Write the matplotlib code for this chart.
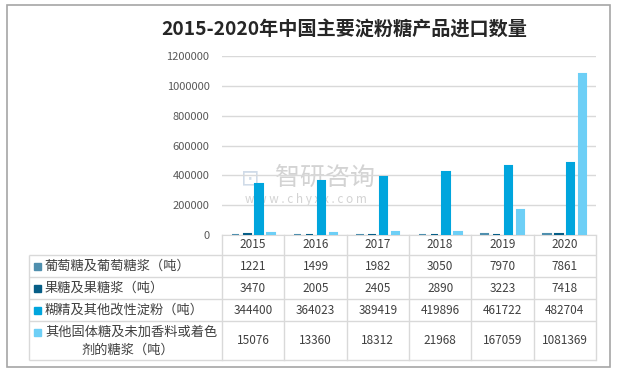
import numpy as np
import matplotlib
matplotlib.use('Agg')
import matplotlib.pyplot as plt
from matplotlib.transforms import blended_transform_factory
from matplotlib.patches import Rectangle

plt.rcParams['font.family'] = ['Noto Sans CJK SC', 'DejaVu Sans']

years = ['2015', '2016', '2017', '2018', '2019', '2020']
series_names = ['葡萄糖及葡萄糖浆（吨）', '果糖及果糖浆（吨）', '糊精及其他改性淀粉（吨）',
                '其他固体糖及未加香料或着色\n剂的糖浆（吨）']
glucose = [1221, 1499, 1982, 3050, 7970, 7861]
fructose = [3470, 2005, 2405, 2890, 3223, 7418]
dextrin = [344400, 364023, 389419, 419896, 461722, 482704]
other_syrup = [15076, 13360, 18312, 21968, 167059, 1081369]
yticks = [0, 200000, 400000, 600000, 800000, 1000000, 1200000]

series = [glucose, fructose, dextrin, other_syrup]
colors = ['#4f8fae', '#065e87', '#00a5dd', '#6dcff6']

W, H = 617, 371
fig = plt.figure(figsize=(W/100, H/100), dpi=100)

# page-level axes in pixel coords (table, border, watermark)
bg = fig.add_axes([0, 0, 1, 1])
bg.set_xlim(0, W)
bg.set_ylim(H, 0)
bg.axis('off')

ax = fig.add_axes([222/W, (H-235)/H, (596-222)/W, (235-56)/H])
ax.set_facecolor('none')
x = np.arange(len(years))
for i, (vals, c) in enumerate(zip(series, colors)):
    ax.bar(x + (i - 1.5)*0.19, vals, width=0.12, color=c, edgecolor=c,
           linewidth=1.5, zorder=3)
ax.set_xlim(-0.5, len(years) - 0.5)
ax.set_ylim(0, 1200000)
ax.set_yticks(yticks)
ax.set_yticklabels([str(v) for v in yticks], fontsize=8, color='#595959')
ax.set_xticks([])
ax.tick_params(axis='y', length=0, pad=9)
ax.grid(axis='y', color='#d9d9d9', linewidth=1, zorder=0)
for s in ['left', 'right', 'top']:
    ax.spines[s].set_visible(False)
ax.spines['bottom'].set_color('#d9d9d9')
ax.spines['bottom'].set_zorder(1)

# outer border
bg.add_patch(Rectangle((7, 5), 603, 362, fill=False, edgecolor='#a6a6a6', linewidth=1.2))

bg.text(344, 30, '2015-2020年中国主要淀粉糖产品进口数量', fontsize=13.8, fontweight='bold',
        color='#262626', ha='center', va='center')

# watermark
bg.text(250, 178, '⊡', fontsize=16, color='#c5d3e3', ha='center', va='center', alpha=0.8)
bg.text(325, 178, '智研咨询', fontsize=18, color='#c8c8c8', ha='center', va='center', alpha=0.8)
bg.text(306, 199, 'w w w . c h y x x . c o m', fontsize=8.5, color='#c8c8c8',
        ha='center', va='center', alpha=0.8)

# data table
tr = blended_transform_factory(ax.transData, bg.transData)
lc = '#d9d9d9'
tc = '#404040'
row_lines = [255, 277, 299, 321, 360]
bg.hlines(row_lines, 29, 596, color=lc, linewidth=1)
bg.vlines([29], 255, 360, color=lc, linewidth=1)
for b in np.arange(len(years) + 1) - 0.5:
    bg.plot([b, b], [235, 360], color=lc, linewidth=1, transform=tr)
for j, yr in enumerate(years):
    bg.text(j, 245, yr, fontsize=8.5, color=tc, ha='center', va='center', transform=tr)

for i, (name, vals, c) in enumerate(zip(series_names, series, colors)):
    yc = (row_lines[i] + row_lines[i+1]) / 2
    if '\n' in name:
        l1, l2 = name.split('\n')
        bg.add_patch(Rectangle((34, yc - 12), 7, 7, color=c))
        bg.text(45, yc - 8.5, l1, fontsize=9.5, color=tc, ha='left', va='center')
        bg.text(128, yc + 9.5, l2, fontsize=9.5, color=tc, ha='center', va='center')
    else:
        bg.add_patch(Rectangle((34, yc - 3.5), 7, 7, color=c))
        bg.text(45, yc, name, fontsize=9.5, color=tc, ha='left', va='center')
    for j, v in enumerate(vals):
        bg.text(j, yc, str(v), fontsize=8.5, color=tc, ha='center', va='center', transform=tr)

fig.savefig('out.png', dpi=100)
